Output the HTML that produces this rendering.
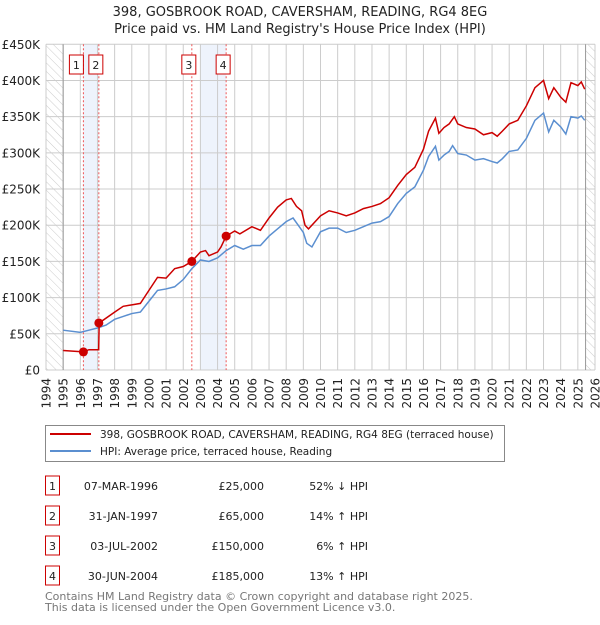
<!DOCTYPE html>
<html><head><meta charset="utf-8"><style>
body{margin:0;background:#fff;width:600px;height:620px;overflow:hidden;font-family:"Liberation Sans","DejaVu Sans",sans-serif}
svg text{font-family:"DejaVu Sans","Liberation Sans",sans-serif}
</style></head><body>
<svg id="c" width="600" height="620" xmlns="http://www.w3.org/2000/svg">
<defs><pattern id="hatch" width="6" height="6" patternUnits="userSpaceOnUse" patternTransform="rotate(-45)"><line x1="0" y1="0" x2="0" y2="6" stroke="#ccc" stroke-width="1"/></pattern></defs>
<text x="300" y="16" text-anchor="middle" font-size="13" fill="#222">398, GOSBROOK ROAD, CAVERSHAM, READING, RG4 8EG</text>
<text x="300" y="33" text-anchor="middle" font-size="13" fill="#222">Price paid vs. HM Land Registry's House Price Index (HPI)</text>
<g id="grid"></g><g id="marks"></g><g id="axes"></g>
<rect x="45.5" y="425.5" width="459" height="36" fill="#fff" stroke="#888"/>
<line x1="50" y1="434" x2="91" y2="434" stroke="#cc0000" stroke-width="2"/>
<text x="100" y="438" font-size="10.5" fill="#222">398, GOSBROOK ROAD, CAVERSHAM, READING, RG4 8EG (terraced house)</text>
<line x1="50" y1="451" x2="91" y2="451" stroke="#5b8fd0" stroke-width="2"/>
<text x="100" y="455" font-size="10.5" fill="#222">HPI: Average price, terraced house, Reading</text>
<g id="table" font-size="11" fill="#222"></g>
<text x="45" y="600" font-size="11" fill="#777">Contains HM Land Registry data © Crown copyright and database right 2025.</text>
<text x="45" y="611" font-size="11" fill="#777">This data is licensed under the Open Government Licence v3.0.</text>
</svg>
<script>
const hpiYears=[1995,1996,1996.5,1997,1997.5,1998,1998.5,1999,1999.5,2000,2000.5,2001,2001.5,2002,2002.5,2003,2003.5,2004,2004.5,2005,2005.5,2006,2006.5,2007,2007.5,2008,2008.4,2008.7,2009,2009.2,2009.5,2010,2010.5,2011,2011.5,2012,2012.5,2013,2013.5,2014,2014.5,2015,2015.5,2016,2016.3,2016.7,2016.9,2017.2,2017.5,2017.7,2018,2018.5,2019,2019.5,2020,2020.3,2020.6,2021,2021.5,2022,2022.5,2023,2023.3,2023.6,2024,2024.3,2024.6,2025,2025.2,2025.4];
const hpiValues=[55,52,55,58,62,70,74,78,80,95,110,112,115,125,140,152,150,155,165,172,167,172,172,185,195,205,210,200,190,175,170,191,196,196,190,193,198,203,205,212,230,244,253,276,295,309,290,297,302,310,299,297,290,292,288,286,292,302,304,320,345,355,329,345,336,326,350,348,351,345];
const priceYears=[1995,1996.18,1996.5,1997.07,1997.1,1998,1998.5,1999,1999.5,2000,2000.5,2001,2001.5,2002,2002.5,2003,2003.3,2003.5,2004,2004.2,2004.5,2005,2005.3,2006,2006.5,2007,2007.5,2008,2008.3,2008.6,2008.9,2009.1,2009.3,2010,2010.5,2011,2011.5,2012,2012.5,2013,2013.5,2014,2014.5,2015,2015.5,2016,2016.3,2016.7,2016.9,2017.2,2017.5,2017.8,2018,2018.5,2019,2019.5,2020,2020.3,2020.6,2021,2021.5,2022,2022.5,2023,2023.3,2023.6,2024,2024.3,2024.6,2025,2025.2,2025.4];
const priceValues=[27,25,28,28,65,80,88,90,92,110,128,127,140,143,150,163,165,158,163,170,185,192,188,198,193,210,225,235,237,226,220,200,195,213,220,217,213,217,223,226,230,238,255,270,280,305,330,348,327,335,340,350,340,335,333,325,328,323,330,340,345,365,390,400,375,390,377,370,397,393,398,388];
const saleYears=[1996.18,1997.08,2002.5,2004.5];
const saleValues=[25,65,150,185];
const saleLabels=["1","2","3","4"];
const saleDates=["07-MAR-1996","31-JAN-1997","03-JUL-2002","30-JUN-2004"];
const salePrices=["£25,000","£65,000","£150,000","£185,000"];
const saleHpi=["52% ↓ HPI","14% ↑ HPI","6% ↑ HPI","13% ↑ HPI"];
const yTicks=[0,50,100,150,200,250,300,350,400,450];
const yTickLabels=["£0","£50K","£100K","£150K","£200K","£250K","£300K","£350K","£400K","£450K"];
const xTicks=[1994,1995,1996,1997,1998,1999,2000,2001,2002,2003,2004,2005,2006,2007,2008,2009,2010,2011,2012,2013,2014,2015,2016,2017,2018,2019,2020,2021,2022,2023,2024,2025,2026];

const NS="http://www.w3.org/2000/svg";
const X0=46,X1=595,Y0=370,Y1=44.3;
const x=v=>X0+(v-1994)/32*(X1-X0);
const y=v=>Y0-v/450*(Y0-Y1);
function mk(tag,attrs,parent){const e=document.createElementNS(NS,tag);for(const k in attrs)e.setAttribute(k,attrs[k]);parent.appendChild(e);return e;}
const grid=document.getElementById('grid'),marks=document.getElementById('marks'),axes=document.getElementById('axes'),table=document.getElementById('table');

const bgl=mk('rect',{x:X0,y:Y1,width:x(1995)-X0,height:Y0-Y1,fill:'url(#hatch)'},grid);


const bgr=mk('rect',{x:x(2025.45),y:Y1,width:X1-x(2025.45),height:Y0-Y1,fill:'url(#hatch)'},grid);


const b1=mk('rect',{x:x(1996.18),y:Y1,width:x(1997.08)-x(1996.18),height:Y0-Y1,fill:'#eef3fc'},grid);


const b2=mk('rect',{x:x(2003.0),y:Y1,width:x(2004.5)-x(2003.0),height:Y0-Y1,fill:'#eef3fc'},grid);



xTicks.forEach(t=>{
 const l=mk('line',{x1:x(t),y1:Y1,x2:x(t),y2:Y0,stroke:'#ccc','stroke-width':1},grid);
 
 
 const tx=mk('text',{x:0,y:0,transform:`translate(${x(t)+4.5},${Y0+8}) rotate(-90)`,'text-anchor':'end','font-size':12,fill:'#222'},axes);
 tx.textContent=t;
 
 
});
yTicks.forEach((t,i)=>{
 const l=mk('line',{x1:X0,y1:y(t),x2:X1,y2:y(t),stroke:'#ccc','stroke-width':1},grid);
 
 
 const tx=mk('text',{x:40,y:y(t)+4.5,'text-anchor':'end','font-size':12,fill:'#222'},axes);
 tx.textContent=yTickLabels[i];
 
 
});
const ax=mk('line',{x1:x(1995),y1:Y1,x2:x(1995),y2:Y0,stroke:'#999'},grid);


const ax2=mk('line',{x1:x(2025.45),y1:Y1,x2:x(2025.45),y2:Y0,stroke:'#999'},grid);



saleYears.forEach((s,i)=>{
 const l=mk('line',{x1:x(s),y1:Y1,x2:x(s),y2:Y0,stroke:'#e55','stroke-width':1,'stroke-dasharray':'2,2'},grid);
 
 
 const bx=(i==0)?x(s)-14:x(s)-10;
 const r=mk('rect',{x:bx,y:55,width:14,height:19,fill:'#fff',stroke:'#c00'},marks);
 
 
 const t=mk('text',{x:bx+7,y:69,'text-anchor':'middle','font-size':11,fill:'#222'},marks);
 t.textContent=saleLabels[i];
 
 
});

const hp=mk('polyline',{points:hpiYears.map((v,i)=>x(v)+','+y(hpiValues[i])).join(' '),fill:'none',stroke:'#5b8fd0','stroke-width':1.5},marks);


const pp=mk('polyline',{points:priceYears.map((v,i)=>x(v)+','+y(priceValues[i])).join(' '),fill:'none',stroke:'#cc0000','stroke-width':1.5},marks);


saleYears.forEach((s,i)=>{
 const c=mk('circle',{cx:x(s),cy:y(saleValues[i]),r:4.5,fill:'#cc0000'},marks);
 
 
});

saleLabels.forEach((lab,i)=>{
 const cy=486+i*30;
 const r=mk('rect',{x:45.5,y:cy-10,width:14,height:19,fill:'#fff',stroke:'#c00'},table);
 
 
 const cells=[[52.5,lab,'middle'],[158,saleDates[i],'end'],[264,salePrices[i],'end'],[368,saleHpi[i],'end']];
 cells.forEach(c=>{const t=mk('text',{x:c[0],y:cy+4,'text-anchor':c[2]},table);t.textContent=c[1];
  
  });
});
</script>
</body></html>
